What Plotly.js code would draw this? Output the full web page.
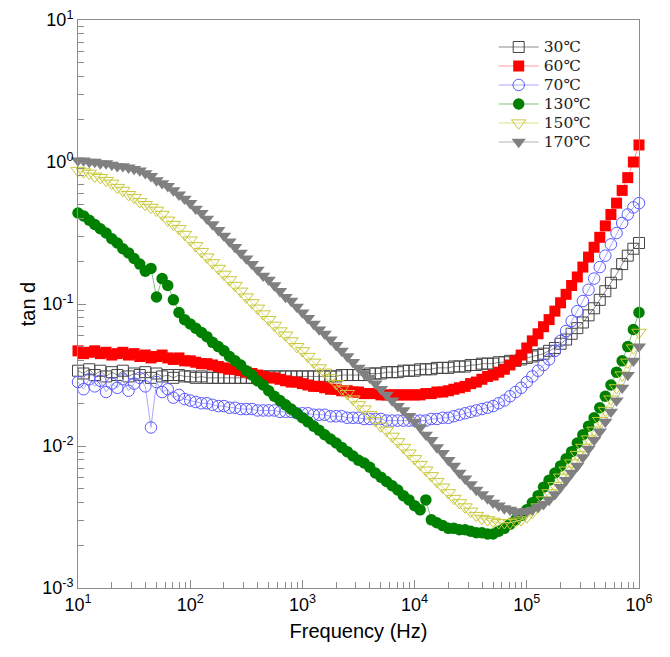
<!DOCTYPE html>
<html><head><meta charset="utf-8">
<script src="https://cdn.plot.ly/plotly-3.0.1.min.js"></script>
<style>body{margin:0;background:#fff}#chart{width:670px;height:657px}</style>
</head><body><div id="chart"></div>
<script>
const frequency = [10,11.2,12.6,14.1,15.8,17.8,20,22.4,25.1,28.2,31.6,35.5,39.8,44.7,50.1,56.2,63.1,70.8,79.4,89.1,
100,112,126,141,158,178,200,224,251,282,316,355,398,447,501,562,631,708,794,891,
1000,1120,1260,1410,1580,1780,2000,2240,2510,2820,3160,3550,3980,4470,5010,5620,6310,7080,7940,8910,
10000,11200,12600,14100,15800,17800,20000,22400,25100,28200,31600,35500,39800,44700,50100,56200,63100,70800,79400,89100,
100000,112000,126000,141000,158000,178000,200000,224000,251000,282000,316000,355000,398000,447000,501000,562000,631000,708000,794000,891000,1000000];

const tan30 = [0.0339,0.0324,0.0347,0.0316,0.0339,0.0309,0.0331,0.0316,0.0339,0.0309,0.0324,0.0316,0.0331,0.0302,0.0324,0.0309,0.0316,0.0302,0.0316,0.0309,
0.0309,0.0302,0.0309,0.0302,0.0302,0.0302,0.0302,0.0302,0.0302,0.0302,0.0302,0.0302,0.0302,0.0309,0.0309,0.0309,0.0309,0.0309,0.0309,0.0309,
0.0309,0.0309,0.0309,0.0309,0.0309,0.0309,0.0309,0.0316,0.0316,0.0316,0.0316,0.0316,0.0324,0.0324,0.0324,0.0331,0.0331,0.0331,0.0339,0.0339,
0.0339,0.0347,0.0347,0.0347,0.0355,0.0355,0.0355,0.0363,0.0363,0.0363,0.0372,0.0372,0.0380,0.0380,0.0380,0.0389,0.0389,0.0398,0.0398,0.0407,
0.0417,0.0427,0.0437,0.0447,0.0468,0.0490,0.0525,0.0562,0.0617,0.0676,0.0741,0.0832,0.0933,0.107,0.123,0.141,0.162,0.191,0.219,0.245,0.269];

const tan60 = [0.0468,0.0447,0.0457,0.0468,0.0447,0.0457,0.0437,0.0447,0.0457,0.0437,0.0447,0.0427,0.0437,0.0417,0.0427,0.0437,0.0417,0.0407,0.0417,0.0398,
0.0398,0.0389,0.0380,0.0380,0.0372,0.0363,0.0355,0.0347,0.0347,0.0339,0.0331,0.0324,0.0316,0.0309,0.0302,0.0302,0.0295,0.0288,0.0282,0.0282,
0.0275,0.0269,0.0263,0.0263,0.0257,0.0251,0.0251,0.0245,0.0245,0.0240,0.0240,0.0234,0.0234,0.0234,0.0229,0.0229,0.0229,0.0229,0.0229,0.0229,
0.0229,0.0229,0.0234,0.0234,0.0240,0.0240,0.0245,0.0251,0.0257,0.0263,0.0275,0.0282,0.0295,0.0309,0.0316,0.0331,0.0347,0.0372,0.0398,0.0437,
0.0490,0.0550,0.0617,0.0692,0.0776,0.0891,0.102,0.117,0.135,0.155,0.182,0.214,0.251,0.295,0.355,0.427,0.513,0.631,0.776,1.000,1.318];

const tan70 = [0.0282,0.0251,0.0295,0.0263,0.0288,0.0240,0.0275,0.0257,0.0295,0.0245,0.0275,0.0302,0.0263,0.0135,0.0282,0.0240,0.0251,0.0219,0.0229,0.0214,
0.0209,0.0204,0.0200,0.0200,0.0195,0.0191,0.0191,0.0186,0.0186,0.0182,0.0182,0.0182,0.0178,0.0178,0.0178,0.0178,0.0174,0.0174,0.0174,0.0170,
0.0170,0.0170,0.0166,0.0166,0.0166,0.0162,0.0162,0.0162,0.0158,0.0158,0.0158,0.0155,0.0155,0.0155,0.0155,0.0151,0.0151,0.0151,0.0151,0.0151,
0.0151,0.0151,0.0151,0.0155,0.0155,0.0158,0.0158,0.0162,0.0166,0.0170,0.0174,0.0178,0.0182,0.0186,0.0191,0.0200,0.0209,0.0224,0.0240,0.0257,
0.0282,0.0309,0.0339,0.0372,0.0407,0.0468,0.0550,0.0646,0.0759,0.0891,0.105,0.126,0.151,0.182,0.219,0.263,0.316,0.372,0.427,0.479,0.513];

const tan130 = [0.437,0.417,0.389,0.363,0.339,0.316,0.288,0.269,0.245,0.229,0.209,0.191,0.170,0.178,0.112,0.151,0.135,0.107,0.0871,0.0776,
0.0724,0.0676,0.0631,0.0589,0.0537,0.0501,0.0468,0.0427,0.0398,0.0372,0.0339,0.0316,0.0288,0.0269,0.0245,0.0224,0.0209,0.0195,0.0182,0.0170,
0.0158,0.0148,0.0138,0.0129,0.0120,0.0112,0.0105,0.00977,0.00912,0.00851,0.00794,0.00759,0.00708,0.00646,0.00603,0.00562,0.00525,0.00490,0.00447,0.00417,
0.00380,0.00355,0.00417,0.00302,0.00288,0.00275,0.00263,0.00263,0.00257,0.00257,0.00251,0.00245,0.00245,0.00240,0.00240,0.00251,0.00263,0.00282,0.00302,0.00324,
0.00355,0.00398,0.00447,0.00513,0.00575,0.00646,0.00724,0.00813,0.00912,0.0105,0.0120,0.0138,0.0158,0.0186,0.0224,0.0269,0.0331,0.0398,0.0501,0.0661,0.0871];

const tan150 = [0.871,0.851,0.832,0.794,0.776,0.741,0.708,0.661,0.631,0.589,0.562,0.525,0.501,0.479,0.457,0.427,0.389,0.363,0.339,0.309,
0.282,0.257,0.234,0.214,0.195,0.178,0.162,0.148,0.135,0.123,0.112,0.102,0.0933,0.0851,0.0776,0.0708,0.0646,0.0603,0.0550,0.0501,
0.0468,0.0427,0.0389,0.0355,0.0331,0.0302,0.0275,0.0251,0.0234,0.0214,0.0195,0.0182,0.0166,0.0151,0.0138,0.0129,0.0117,0.0107,0.00977,0.00891,
0.00813,0.00741,0.00676,0.00617,0.00562,0.00513,0.00468,0.00427,0.00398,0.00372,0.00347,0.00324,0.00309,0.00302,0.00295,0.00288,0.00288,0.00288,0.00295,0.00302,
0.00316,0.00339,0.00372,0.00417,0.00468,0.00525,0.00603,0.00676,0.00759,0.00871,0.00977,0.0112,0.0129,0.0151,0.0178,0.0214,0.0257,0.0316,0.0389,0.0490,0.0631];

const tan170 = [1.023,1.023,1.000,1.000,0.977,0.977,0.955,0.933,0.933,0.912,0.891,0.871,0.832,0.794,0.741,0.708,0.676,0.631,0.589,0.550,
0.513,0.468,0.437,0.398,0.363,0.331,0.302,0.275,0.251,0.229,0.209,0.191,0.174,0.158,0.148,0.135,0.123,0.112,0.105,0.0955,
0.0871,0.0794,0.0724,0.0661,0.0617,0.0562,0.0513,0.0468,0.0427,0.0389,0.0355,0.0324,0.0302,0.0275,0.0251,0.0229,0.0209,0.0191,0.0178,0.0162,
0.0148,0.0135,0.0120,0.0110,0.00977,0.00891,0.00794,0.00724,0.00646,0.00589,0.00537,0.00490,0.00457,0.00427,0.00398,0.00380,0.00363,0.00355,0.00339,0.00347,
0.00347,0.00355,0.00372,0.00389,0.00417,0.00457,0.00513,0.00575,0.00646,0.00724,0.00832,0.00955,0.0110,0.0126,0.0148,0.0174,0.0209,0.0257,0.0316,0.0398,0.0501];

const seriesNames = ['30\u2103','60\u2103','70\u2103','130\u2103','150\u2103','170\u2103'];
const xTickVals = [10,100,1000,10000,100000,1000000];
const xTickText = ['10<sup>1</sup>','10<sup>2</sup>','10<sup>3</sup>','10<sup>4</sup>','10<sup>5</sup>','10<sup>6</sup>'];
const yTickVals = [0.001,0.01,0.1,1,10];
const yTickText = ['10<sup>-3</sup>','10<sup>-2</sup>','10<sup>-1</sup>','10<sup>0</sup>','10<sup>1</sup>'];

function minorVals(lo, hi){
  const v=[]; for(let e=lo;e<hi;e++){ for(let k=2;k<=9;k++) v.push(k*Math.pow(10,e)); } return v;
}

const styles = [
  {symbol:'square-open', size:11, color:'#444444', lw:1, line:'#8a8a8a'},
  {symbol:'square', size:11, color:'#ff0000', lw:0, line:'#ff9c9c'},
  {symbol:'circle-open', size:11.5, color:'#5a5aff', lw:1, line:'#a8a8ff'},
  {symbol:'circle', size:11.5, color:'#008000', lw:0, line:'#80c080'},
  {symbol:'triangle-down-open', size:12.5, color:'#c8c83a', lw:1, line:'#e0e088'},
  {symbol:'triangle-down', size:12.5, color:'#808080', lw:0, line:'#b4b4b4'}
];
const ys = [tan30, tan60, tan70, tan130, tan150, tan170];

const traces = ys.map((y,i)=>({
  x: frequency, y: y, name: '<span style="font-size:15.5px">' + seriesNames[i] + '</span>',
  type:'scatter', mode:'lines+markers',
  cliponaxis:false,
  line:{color:styles[i].line, width:1},
  marker:{symbol:styles[i].symbol, size:styles[i].size, color:styles[i].color,
          line:{color:styles[i].color, width:styles[i].lw}}
}));

const axisCommon = {
  type:'log', showgrid:false, zeroline:false, showline:true, linecolor:'#8c8c8c', linewidth:1,
  mirror:true, ticks:'inside', ticklen:8, tickcolor:'#8c8c8c', tickwidth:1,
  tickfont:{family:'Liberation Sans, Arial, sans-serif', size:18, color:'#000'},
  tickmode:'array'
};

const layout = {
  width:670, height:657,
  margin:{l:78, r:31, t:20, b:69},
  paper_bgcolor:'#fff', plot_bgcolor:'#fff',
  showlegend:true,
  legend:{x:0.741, y:0.978, xanchor:'left', yanchor:'top', bgcolor:'rgba(255,255,255,0.9)',
          borderwidth:0, itemwidth:40, font:{family:'DejaVu Serif, serif', size:12, color:'#222'}, tracegroupgap:0},
  xaxis:Object.assign({}, axisCommon, {
    range:[1,6], tickvals:xTickVals, ticktext:xTickText,
    minor:{tickmode:'array', tickvals:minorVals(1,6), ticks:'inside', ticklen:6, tickcolor:'#8c8c8c', showgrid:false},
    title:{text:'Frequency (Hz)', font:{family:'Liberation Sans, Arial, sans-serif', size:20, color:'#000'}, standoff:10}
  }),
  yaxis:Object.assign({}, axisCommon, {
    range:[-3,1], tickvals:yTickVals, ticktext:yTickText,
    minor:{tickmode:'array', tickvals:minorVals(-3,1), ticks:'inside', ticklen:6, tickcolor:'#8c8c8c', showgrid:false},
    title:{text:'tan d', font:{family:'Liberation Sans, Arial, sans-serif', size:20, color:'#000'}, standoff:1}
  })
};

Plotly.newPlot('chart', traces, layout, {displayModeBar:false, staticPlot:true});
</script>
</body></html>
